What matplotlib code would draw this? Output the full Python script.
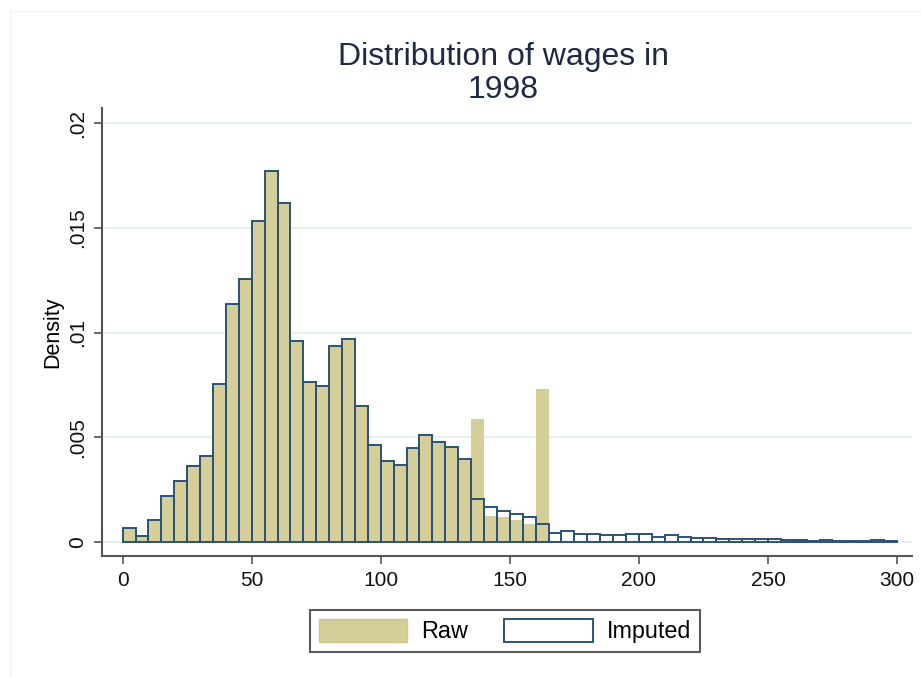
import numpy as np
import matplotlib
matplotlib.use('Agg')
import matplotlib.pyplot as plt
from matplotlib.patches import Patch

plt.rcParams['font.family'] = ['Liberation Sans', 'DejaVu Sans']

# 5-unit wage bins from 0 to 300
bin_width = 5
bin_edges = np.arange(0, 300 + bin_width, bin_width)

# density of raw (top-coded) wages, bins 0-165
raw_density = [0.00067, 0.00027, 0.00107, 0.00218, 0.00293, 0.00365, 0.00411,
               0.00755, 0.01139, 0.01254, 0.01534, 0.01770, 0.01618, 0.00962,
               0.00763, 0.00747, 0.00934, 0.00971, 0.00648, 0.00461, 0.00388,
               0.00370, 0.00447, 0.00513, 0.00479, 0.00455, 0.00396, 0.00588,
               0.00125, 0.00117, 0.00104, 0.00088, 0.00732]

# density after imputing the top-coded wages, bins 0-300
imputed_density = [0.00067, 0.00027, 0.00107, 0.00218, 0.00293, 0.00365, 0.00411,
                   0.00755, 0.01139, 0.01254, 0.01534, 0.01770, 0.01618, 0.00962,
                   0.00763, 0.00747, 0.00934, 0.00971, 0.00648, 0.00461, 0.00388,
                   0.00370, 0.00447, 0.00513, 0.00479, 0.00455, 0.00396, 0.00203,
                   0.00165, 0.00149, 0.00136, 0.00117, 0.00085, 0.00045, 0.00051,
                   0.00040, 0.00037, 0.00035, 0.00035, 0.00038, 0.00037, 0.00024,
                   0.00035, 0.00022, 0.00021, 0.00021, 0.00014, 0.00014, 0.00013,
                   0.00013, 0.00014, 0.00008, 0.00008, 0.00006, 0.00011, 0.00006,
                   0.00006, 0.00006, 0.00008, 0.00005]

x_ticks = [0, 50, 100, 150, 200, 250, 300]
y_ticks = [0, 0.005, 0.01, 0.015, 0.02]
y_ticklabels = ['0', '.005', '.01', '.015', '.02']

raw_color = '#d5ce99'
navy = '#2a5278'
grid_color = '#e6eff2'
axis_color = '#555555'

fig = plt.figure(figsize=(9.21, 6.77), dpi=100)
ax = fig.add_axes([102 / 921, 1 - 556 / 677, (912 - 102) / 921, (556 - 108) / 677])

ax.bar(bin_edges[:len(raw_density)], raw_density, width=bin_width, align='edge',
       color=raw_color, edgecolor='none', linewidth=0, zorder=2)
ax.bar(bin_edges[:len(imputed_density)], imputed_density, width=bin_width, align='edge',
       facecolor='none', edgecolor=navy, linewidth=1.4, zorder=3)

ax.set_xlim(-8.0, 305.8)
ax.set_ylim(-0.00067, 0.02073)
ax.set_xticks(x_ticks)
ax.set_yticks(y_ticks)
ax.set_yticklabels(y_ticklabels, rotation=90, va='center')
ax.tick_params(axis='both', direction='out', length=6, width=1.2, color=axis_color,
               labelsize=15, pad=5, labelcolor='#111111')
ax.set_ylabel('Density', fontsize=15.5, labelpad=3)

ax.grid(axis='y', color=grid_color, linewidth=1.5, zorder=0)
ax.set_axisbelow(True)
for side in ['top', 'right']:
    ax.spines[side].set_visible(False)
for side in ['left', 'bottom']:
    ax.spines[side].set_color(axis_color)
    ax.spines[side].set_linewidth(1.5)

# faint outer frame of the graph region
fig.add_artist(plt.Line2D([10 / 921, 10 / 921], [0, 1 - 11 / 677], color='#f3f3f3', lw=1))
fig.add_artist(plt.Line2D([10 / 921, 1], [1 - 11 / 677, 1 - 11 / 677], color='#f3f3f3', lw=1))

fig.text(503 / 921, 1 - 57 / 677, 'Distribution of wages in', ha='center', va='center',
         fontsize=23, color='#1e2a44')
fig.text(503 / 921, 1 - 90 / 677, '1998', ha='center', va='center',
         fontsize=23, color='#1e2a44')

handles = [Patch(facecolor=raw_color, edgecolor='#cfc68c', linewidth=1.0, label='Raw'),
           Patch(facecolor='white', edgecolor=navy, linewidth=1.4, label='Imputed')]
leg = fig.legend(handles=handles, loc='center', bbox_to_anchor=(505 / 921, 1 - 631 / 677),
                 ncol=2, fontsize=16.8, frameon=True, fancybox=False,
                 handlelength=3.78, handleheight=1.12, handletextpad=0.6,
                 columnspacing=1.55, borderpad=0.4)
leg.get_frame().set_edgecolor('#333333')
leg.get_frame().set_linewidth(1.5)

fig.savefig('out.png', dpi=100)
